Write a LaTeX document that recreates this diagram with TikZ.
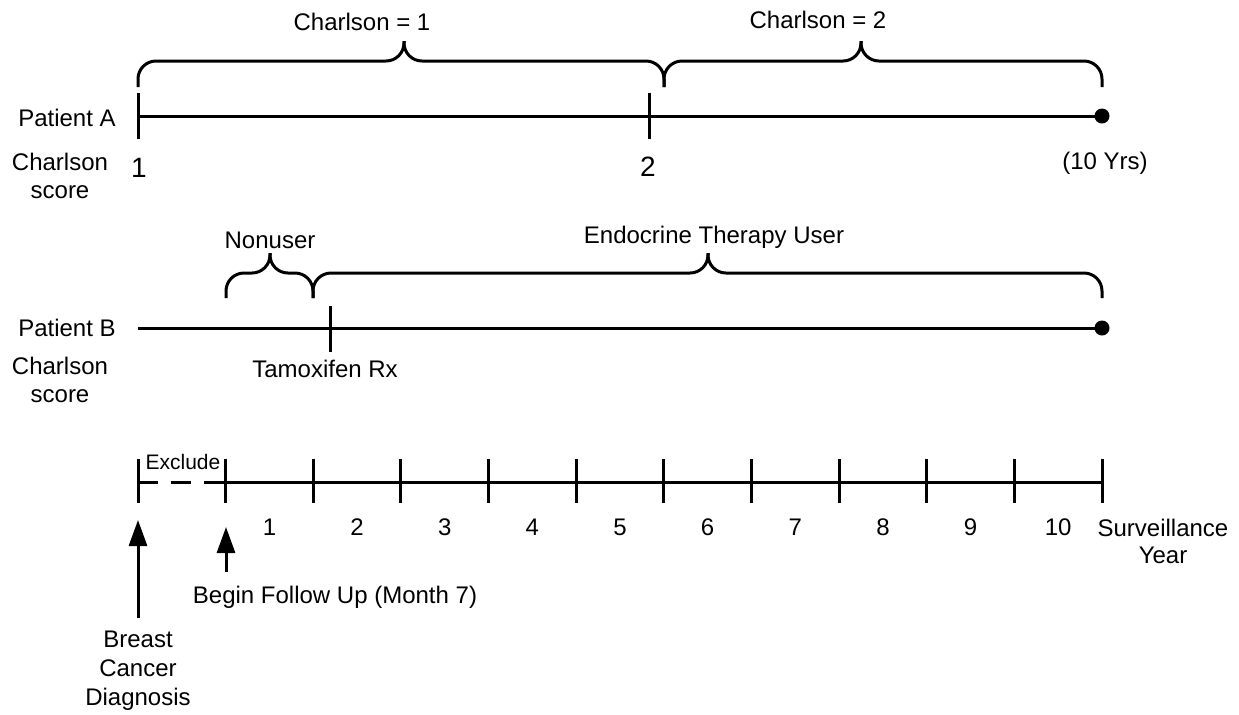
\documentclass[tikz,border=0pt]{standalone}
\usepackage{fontspec}
\setmainfont{Liberation Sans}
\usetikzlibrary{arrows.meta}

% curly brace over a timeline: left end, tip, right end, y of ends, y of flat part, y of tip
\newcommand{\spanbrace}[6]{%
\draw[rounded corners=9pt] (#1,#4) |- (#2,#5) -- (#2,#6);
\draw[rounded corners=9pt] (#3,#4) |- (#2,#5) -- (#2,#6);}

\tikzset{
  tl/.style={line width=1.5pt},
  lbl/.style={font=\fontsize{12}{14}\selectfont, inner sep=1pt},
  score/.style={font=\fontsize{14}{16}\selectfont, inner sep=1pt},
  up/.style={line width=1.5pt, -{Triangle[length=13pt,width=9pt]}}
}

\begin{document}
\begin{tikzpicture}[x=0.5pt,y=-0.5pt,line width=1.5pt]
\pgfmathsetmacro{\xs}{138};
\pgfmathsetmacro{\xe}{1102};
\pgfmathsetmacro{\dx}{87.64};
\useasboundingbox (0,0) rectangle (1239,714);

% Patient A
\begin{scope}
\spanbrace{\xs}{404}{664}{87}{61}{41}
\spanbrace{664}{861}{\xe}{87}{61}{41}
\node[lbl] (c1) at (362,22) {Charlson = 1};
\node[lbl] (c2) at (818,20) {Charlson = 2};
\node[lbl] (pa) at (67,118) {Patient A};
\node[lbl,align=center] (csa) at (60,176) {Charlson\\score};
\coordinate (a0) at (\xs,116);
\coordinate (a1) at (649,116);
\coordinate (a2) at (\xe,116);
\draw[tl] (a0) -- (a2);
\draw[tl] (\xs,93) -- (\xs,139);
\draw[tl] (649,93) -- (649,139);
\fill (a2) circle (3.75pt);
\node[score] (sa1) at (139,168) {1};
\node[score] (sa2) at (648,167) {2};
\node[lbl] (yrs) at (1105,163) {(10 Yrs)};
\end{scope}

% Patient B
\begin{scope}
\spanbrace{226}{270}{313}{298}{273}{253}
\spanbrace{313}{708}{\xe}{298}{273}{253}
\node[lbl] (nu) at (270,240) {Nonuser};
\node[lbl] (etu) at (714,237) {Endocrine Therapy User};
\node[lbl] (pb) at (67,328) {Patient B};
\node[lbl,align=center] (csb) at (60,380) {Charlson\\score};
\coordinate (b0) at (\xs,328);
\coordinate (b1) at (330,328);
\coordinate (b2) at (\xe,328);
\draw[tl] (b0) -- (b2);
\draw[tl] (330,306) -- (330,352);
\fill (b2) circle (3.75pt);
\node[lbl] (tam) at (325,369) {Tamoxifen Rx};
\end{scope}

% surveillance axis
\begin{scope}
\coordinate (t0) at (\xs,482);
\coordinate (t1) at ({\xs+\dx},482);
\coordinate (t11) at (\xe,482);
\draw[tl,dash pattern=on 10pt off 6.5pt] (t0) -- (t1);
\draw[tl] (t1) -- (t11);
\foreach \i in {0,...,11}
  \draw[tl] ({\xs+\i*\dx},459) -- ({\xs+\i*\dx},503);
\foreach \n in {1,...,10}
  \node[lbl] (y\n) at ({\xs+(\n+0.5)*\dx},527) {\n};
\node[inner sep=1pt,font=\fontsize{10.5}{12}\selectfont] (ex) at (183,462) {Exclude};
\node[lbl,align=center,font=\fontsize{12}{13.5}\selectfont] (sy) at (1163,541) {Surveillance\\Year};
%\draw[dotted] (t0) -- (t11);
\end{scope}

% arrows
\coordinate (bcfoot) at (\xs,618);
\coordinate (bctip) at (\xs,520);
\coordinate (bffoot) at (226,572);
\coordinate (bftip) at (226,527);
\draw[up] (bcfoot) -- (bctip);
\draw[up] (bffoot) -- (bftip);
\node[lbl,align=center,font=\fontsize{12}{14.5}\selectfont] (bcd) at (\xs,671) {Breast\\Cancer\\Diagnosis};
\node[lbl] (bfu) at (335,597) {Begin Follow Up (Month 7)};
\end{tikzpicture}
\end{document}
